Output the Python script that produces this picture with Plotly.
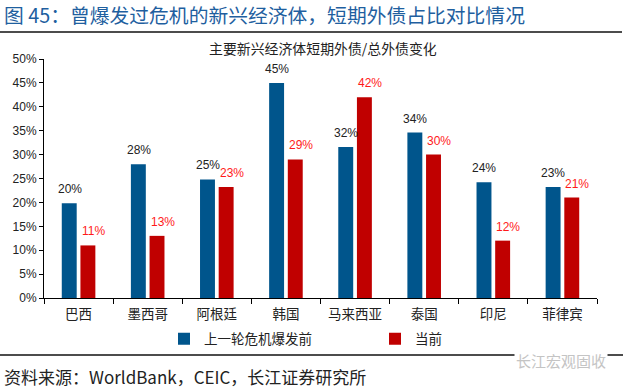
import plotly.graph_objects as go

categories = ["巴西", "墨西哥", "阿根廷", "韩国", "马来西亚", "泰国", "印尼", "菲律宾"]
before_crisis = [19.8, 28.0, 24.8, 45.0, 31.6, 34.6, 24.2, 23.2]
current = [11.0, 13.0, 23.2, 29.0, 42.0, 30.0, 12.0, 21.0]
before_labels = ["20%", "28%", "25%", "45%", "32%", "34%", "24%", "23%"]
current_labels = ["11%", "13%", "23%", "29%", "42%", "30%", "12%", "21%"]
y_ticks = [0, 5, 10, 15, 20, 25, 30, 35, 40, 45, 50]

W, H = 627, 389
L, R, T, B = 44, 597, 59, 298

def px(x):
    return (x - L) / (R - L)

def py(y):
    return (B - y) / (B - T)

FONT = "Liberation Sans, Arial, Noto Sans CJK SC, sans-serif"
CJK = "Noto Sans CJK SC, Liberation Sans, sans-serif"

fig = go.Figure()
fig.add_trace(go.Bar(
    x=categories, y=before_crisis, name="上一轮危机爆发前",
    marker=dict(color="#00558C", line=dict(width=0)),
))
fig.add_trace(go.Bar(
    x=categories, y=current, name="当前",
    marker=dict(color="#C00000", line=dict(width=0)),
))

annotations = []
for c, v, t in zip(categories, before_crisis, before_labels):
    annotations.append(dict(x=c, y=v, text=t, xref="x", yref="y", showarrow=False,
                            xanchor="center", yanchor="bottom", xshift=-9, yshift=5,
                            font=dict(family=FONT, size=12, color="#222222")))
for c, v, t in zip(categories, current, current_labels):
    annotations.append(dict(x=c, y=v, text=t, xref="x", yref="y", showarrow=False,
                            xanchor="center", yanchor="bottom", xshift=15, yshift=5,
                            font=dict(family=FONT, size=12, color="#FF1A1A")))

annotations += [
    dict(text="图 45：曾爆发过危机的新兴经济体，短期外债占比对比情况",
         x=px(2), y=py(14), xref="paper", yref="paper", xanchor="left", yanchor="middle",
         showarrow=False, font=dict(family=CJK, size=19.8, color="#1F5F9F")),
    dict(text="主要新兴经济体短期外债/总外债变化",
         x=px(323), y=py(48), xref="paper", yref="paper", xanchor="center", yanchor="middle",
         showarrow=False, font=dict(family=CJK, size=13.9, color="#222222")),
    dict(text="资料来源：WorldBank，CEIC，长江证券研究所",
         x=px(2), y=py(376), xref="paper", yref="paper", xanchor="left", yanchor="middle",
         showarrow=False, font=dict(family=CJK, size=17, color="#222222")),
    dict(text="长江宏观固收",
         x=px(608), y=py(360), xref="paper", yref="paper", xanchor="right", yanchor="middle",
         showarrow=False, bgcolor="white", borderpad=1,
         font=dict(family=CJK, size=15, color="#C4C4C4")),
]

fig.update_layout(
    width=W, height=H,
    margin=dict(l=L, r=W - R, t=T, b=H - B, pad=0, autoexpand=False),
    paper_bgcolor="white", plot_bgcolor="white",
    barmode="group", bargap=0.46, bargroupgap=0.2,
    font=dict(family=FONT, size=12, color="#222222"),
    showlegend=True,
    legend=dict(orientation="h", x=px(164), xanchor="left", y=py(339), yanchor="middle",
                font=dict(family=CJK, size=13.5, color="#222222"),
                itemwidth=30, traceorder="normal", entrywidth=166,
                bgcolor="rgba(0,0,0,0)"),
    xaxis=dict(showline=True, linecolor="#000000", linewidth=1,
               ticks="outside", tickson="boundaries", ticklen=5, tickcolor="#000000",
               tickfont=dict(family=CJK, size=13.5, color="#222222"),
               ticklabelstandoff=4,
               showgrid=False, fixedrange=True),
    yaxis=dict(range=[0, 50], tickvals=y_ticks, ticktext=[f"{v}%" for v in y_ticks],
               showline=True, linecolor="#000000", linewidth=1,
               ticks="outside", ticklen=4, tickcolor="#000000",
               tickfont=dict(family=FONT, size=12, color="#222222"),
               showgrid=False, zeroline=False, fixedrange=True),
    annotations=annotations,
)

fig.add_shape(type="line", xref="paper", yref="paper",
              x0=px(0), x1=px(622), y0=py(32), y1=py(32),
              line=dict(color="#111111", width=1.5))
fig.add_shape(type="line", xref="paper", yref="paper",
              x0=px(0), x1=px(623), y0=py(355), y1=py(355),
              line=dict(color="#111111", width=1.5))

fig.write_html("out.html", config={"displayModeBar": False},
               post_script="document.body.style.margin='0';document.body.style.padding='0';")
